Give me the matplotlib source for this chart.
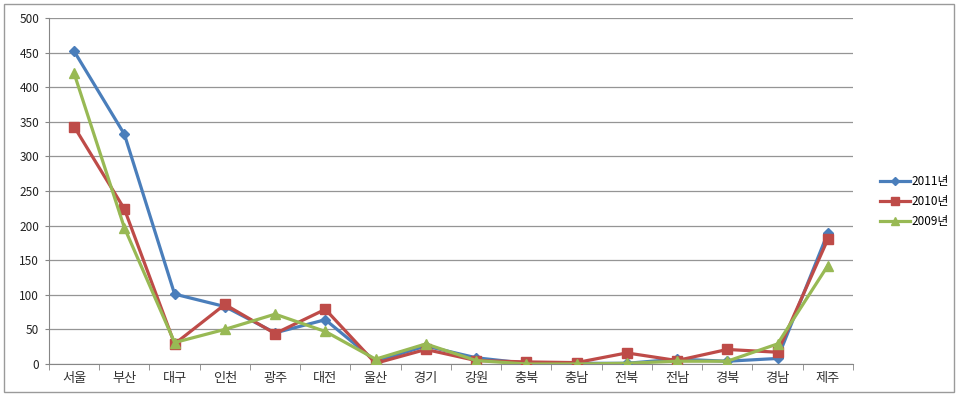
import matplotlib
matplotlib.use("Agg")
import matplotlib.pyplot as plt
from matplotlib.patches import Rectangle
import numpy as np

plt.rcParams['font.family'] = ['Noto Sans CJK KR', 'DejaVu Sans']

regions = ["서울", "부산", "대구", "인천", "광주", "대전", "울산", "경기",
           "강원", "충북", "충남", "전북", "전남", "경북", "경남", "제주"]
y2011 = [452, 332, 101, 83, 45, 64, 4, 26, 9, 1, 1, 1, 7, 4, 8, 189]
y2010 = [343, 224, 29, 86, 44, 79, 1, 21, 5, 3, 2, 16, 5, 21, 17, 180]
y2009 = [420, 197, 31, 50, 72, 47, 7, 29, 5, 0, 0, 1, 4, 4, 29, 142]
yticks = list(range(0, 501, 50))

series = [
    ("2011년", y2011, "#4A7EBB", "D", 5.5),
    ("2010년", y2010, "#BE4B48", "s", 7.5),
    ("2009년", y2009, "#98B954", "^", 7.5),
]

fig = plt.figure(figsize=(9.57, 3.95), dpi=100)
ax = fig.add_axes([0.0512, 0.0785, 0.840, 0.876])

x = np.arange(len(regions))
for label, vals, color, marker, ms in series:
    ax.plot(x, vals, color=color, lw=2.3, marker=marker, markersize=ms,
            markeredgecolor=color, label=label, zorder=3)

ax.set_xlim(-0.5, len(regions) - 0.5)
ax.set_ylim(0, 500)
ax.set_yticks(yticks)
ax.tick_params(axis='y', labelsize=8.5, colors='#222222', length=3,
               color='#868686', pad=4)
ax.yaxis.grid(True, color='#959595', lw=0.9)
ax.set_axisbelow(True)

ax.set_xticks(x)
ax.set_xticklabels(regions, fontsize=9.5, color='#333333')
ax.tick_params(axis='x', length=0, pad=6)
ax.set_xticks(np.arange(-0.5, len(regions)), minor=True)
ax.tick_params(axis='x', which='minor', length=4, color='#868686')

for side in ("top", "right"):
    ax.spines[side].set_visible(False)
for side in ("left", "bottom"):
    ax.spines[side].set_color('#868686')

leg = ax.legend(loc='center left', bbox_to_anchor=(1.02, 0.47), frameon=False,
                fontsize=8.5, handlelength=2.6, handletextpad=0.1,
                labelspacing=0.6, markerscale=0.8)

fig.patches.append(Rectangle((0.004, 0.008), 0.993, 0.982, transform=fig.transFigure,
                             fill=False, edgecolor='#9a9a9a', lw=1))

fig.savefig("out.png", dpi=100)
